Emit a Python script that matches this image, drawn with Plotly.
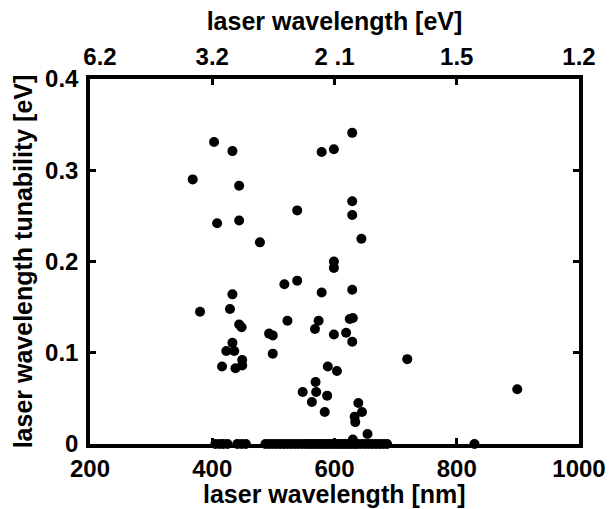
import plotly.graph_objects as go

# Nonzero tunability points: laser wavelength [nm], tunability [eV]
wl_nm = [368, 403, 433, 444, 408, 444, 478, 539, 579, 599, 629, 629, 629, 644,
         599, 599, 518, 539, 579, 629, 433, 380, 429, 444, 448, 493, 499, 523,
         574, 568, 599, 619, 625, 630, 629, 433, 423, 436, 416, 438, 449, 449,
         499, 719, 589, 604, 569, 548, 570, 588, 563, 584, 639, 645, 633, 634,
         654, 630, 899]
tun_ev = [0.290, 0.331, 0.321, 0.283, 0.242, 0.245, 0.221, 0.256, 0.320, 0.323,
          0.341, 0.266, 0.251, 0.225, 0.200, 0.193, 0.175, 0.179, 0.166, 0.169,
          0.164, 0.145, 0.148, 0.131, 0.128, 0.121, 0.119, 0.135, 0.135, 0.126,
          0.120, 0.122, 0.137, 0.138, 0.112, 0.111, 0.102, 0.102, 0.085, 0.083,
          0.086, 0.092, 0.099, 0.093, 0.085, 0.080, 0.068, 0.057, 0.057, 0.053,
          0.046, 0.035, 0.045, 0.035, 0.030, 0.024, 0.011, 0.005, 0.060]

# Fixed-wavelength lasers (zero tunability)
zero_nm = [405, 412, 418, 425, 441, 448, 455,
           487, 493, 499, 505, 511, 517, 523, 529, 535, 541, 547, 553, 558,
           563, 568, 573, 578, 583, 588, 593, 598, 603, 608, 613, 618, 623,
           628, 633, 638, 644, 650, 656, 662, 668, 674, 680, 686, 829]
zero_ev = [0.0] * len(zero_nm)

x_ticks = [200, 400, 600, 800, 1000]
x_ticklabels = ["200", "400", "600", "800", "1000"]
top_ticklabels = ["\u00a0\u00a0\u00a06.2", "3.2", "2 .1", "1.5", "1.2"]
y_ticks = [0, 0.1, 0.2, 0.3, 0.4]
y_ticklabels = ["0", "0.1", "0.2", "0.3", "0.4"]

x_title = "laser wavelength [nm]"
top_title = "laser wavelength [eV]"
y_title = "laser wavelength tunability [eV]"

FONT = "Liberation Sans"
tickfont = dict(family=FONT, size=24, color="black", weight="bold")
titlefont = dict(family=FONT, size=25, color="black", weight="bold")

fig = go.Figure()
fig.add_trace(go.Scatter(
    x=wl_nm + zero_nm, y=tun_ev + zero_ev, mode="markers",
    marker=dict(color="black", size=10, line=dict(width=0)),
    cliponaxis=False, showlegend=False))
# invisible trace to anchor the top (eV) axis
fig.add_trace(go.Scatter(
    x=[x_ticks[0], x_ticks[-1]], y=[0, 0], xaxis="x2", mode="markers",
    marker=dict(opacity=0), hoverinfo="skip", showlegend=False))

axis_common = dict(showline=True, linecolor="black", linewidth=3.5,
                   ticks="inside", ticklen=6, tickwidth=2.5, tickcolor="black",
                   showgrid=False, zeroline=False, tickfont=tickfont,
                   automargin=False)

fig.update_layout(
    width=609, height=509,
    margin=dict(l=90, r=30, t=79, b=65, autoexpand=False),
    paper_bgcolor="white", plot_bgcolor="white",
    xaxis=dict(range=[200, 1000], tickvals=x_ticks, ticktext=x_ticklabels,
               mirror=True, ticklabelstandoff=0, **axis_common),
    xaxis2=dict(range=[200, 1000], tickvals=x_ticks, ticktext=top_ticklabels,
                overlaying="x", side="top", anchor="y", ticklabelstandoff=1,
                title=dict(text=top_title, font=titlefont, standoff=6),
                **axis_common),
    yaxis=dict(range=[0, 0.4], tickvals=y_ticks, ticktext=y_ticklabels,
               mirror="ticks", ticklabelstandoff=3,
               title=dict(text=y_title, font=titlefont, standoff=6),
               **axis_common),
    annotations=[dict(text=x_title, x=0.5, y=0, xref="paper", yref="paper",
                      xanchor="center", yanchor="middle", yshift=-50,
                      showarrow=False, font=titlefont)],
)

fig.write_html("out.html", config={"displayModeBar": False},
               post_script="document.body.style.margin='0';document.body.style.overflow='hidden';")
